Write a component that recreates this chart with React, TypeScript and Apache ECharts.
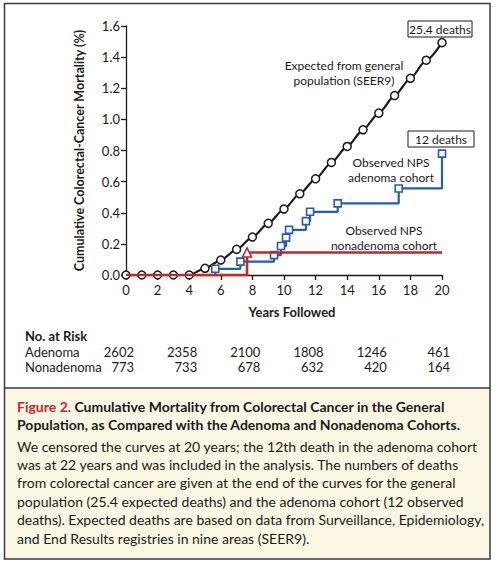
import { useEffect, useRef } from 'react'
import * as echarts from 'echarts'

// expected curve (SEER9), one point per year
const years = [0, 1, 2, 3, 4, 5, 6, 7, 8, 9, 10, 11, 12, 13, 14, 15, 16, 17, 18, 19, 20]
const expectedValues = [0, 0, 0, 0, 0, 0.043, 0.096, 0.165, 0.244, 0.332, 0.424, 0.522, 0.618, 0.723, 0.826, 0.933, 1.04, 1.153, 1.264, 1.38, 1.493]

// observed adenoma cohort, step at each death
const adenomaYears = [0, 5.65, 7.24, 9.37, 9.81, 10.13, 10.32, 11.39, 11.65, 13.4, 17.26, 20]
const adenomaValues = [0, 0.04, 0.086, 0.128, 0.186, 0.24, 0.29, 0.346, 0.406, 0.46, 0.556, 0.78]

// observed nonadenoma cohort
const nonadenomaYears = [0, 7.66, 20]
const nonadenomaValues = [0, 0.145, 0.145]

// numbers at risk
const riskYears = [0, 4, 8, 12, 16, 20]
const adenomaAtRisk = [2602, 2358, 2100, 1808, 1246, 461]
const nonadenomaAtRisk = [773, 733, 678, 632, 420, 164]

const FONT = 'Lato, sans-serif'
const BLACK = '#1a1a1a'
const BLUE = '#2b5ca8'
const RED = '#c1272d'

const captionBody = [
  'We censored the curves at 20 years; the 12th death in the adenoma cohort',
  'was at 22 years and was included in the analysis. The numbers of deaths',
  'from colorectal cancer are given at the end of the curves for the general',
  'population (25.4 expected deaths) and the adenoma cohort (12 observed',
  'deaths). Expected deaths are based on data from Surveillance, Epidemiology,',
  'and End Results registries in nine areas (SEER9).'
]

export default function App() {
  const ref = useRef<HTMLDivElement>(null)

  useEffect(() => {
    if (!ref.current) return
    const chart = echarts.init(ref.current, null, { renderer: 'svg' })

    const axisLabel = { color: BLACK, fontFamily: FONT, fontSize: 13 }

    chart.setOption({
      animation: false,
      grid: { left: 126, right: 58, top: 26, bottom: 289 },
      xAxis: {
        type: 'value',
        min: 0,
        max: 20,
        interval: 2,
        axisLine: { show: true, onZero: false, lineStyle: { color: BLACK, width: 1.3 } },
        axisTick: { show: true, length: 5, lineStyle: { color: BLACK, width: 1.3 } },
        axisLabel: { ...axisLabel, margin: 8 },
        splitLine: { show: false }
      },
      yAxis: {
        type: 'value',
        min: 0,
        max: 1.6,
        interval: 0.2,
        name: 'Cumulative Colorectal-Cancer Mortality (%)',
        nameLocation: 'middle',
        nameGap: 40,
        nameTextStyle: { color: BLACK, fontFamily: FONT, fontSize: 12.5, fontWeight: 'bold' },
        axisLine: { show: true, lineStyle: { color: BLACK, width: 1.3 } },
        axisTick: { show: true, length: 5, lineStyle: { color: BLACK, width: 1.3 } },
        axisLabel: { ...axisLabel, margin: 6, formatter: (v: number) => v.toFixed(1) },
        splitLine: { show: false }
      },
      series: [
        {
          name: 'Expected',
          type: 'line',
          data: years.map((y, i) => [y, expectedValues[i]]),
          smooth: 0.25,
          smoothMonotone: 'x',
          symbol: 'circle',
          symbolSize: 8,
          itemStyle: { color: '#fff', borderColor: BLACK, borderWidth: 1.5 },
          lineStyle: { color: BLACK, width: 2.2 },
          z: 3
        },
        {
          name: 'Adenoma',
          type: 'line',
          step: 'end',
          data: adenomaYears.map((y, i) => ({
            value: [y, adenomaValues[i]],
            symbol: i === 0 ? 'none' : 'rect'
          })),
          symbolSize: 7,
          itemStyle: { color: '#fff', borderColor: BLUE, borderWidth: 1.6 },
          lineStyle: { color: BLUE, width: 2.2 },
          z: 4
        },
        {
          name: 'Nonadenoma',
          type: 'line',
          step: 'end',
          data: nonadenomaYears.map((y, i) => ({
            value: [y, nonadenomaValues[i]],
            symbol: i === 1 ? 'triangle' : 'none'
          })),
          symbolSize: 9,
          itemStyle: { color: '#fff', borderColor: RED, borderWidth: 1.6 },
          lineStyle: { color: RED, width: 2.6 },
          z: 5
        }
      ]
    })

    const px = (yr: number) => chart.convertToPixel({ xAxisIndex: 0 }, yr) as number
    const text = (x: number, y: number, t: string, extra: any = {}) => ({
      type: 'text',
      x,
      y,
      silent: true,
      style: {
        text: t,
        fill: BLACK,
        font: `13px ${FONT}`,
        textAlign: 'center',
        textVerticalAlign: 'middle',
        ...extra
      }
    })
    const note = (x: number, y: number, t: string) => text(x, y, t, { font: `12px ${FONT}` })
    const box = (x: number, y: number, w: number, h: number, t: string) => [
      { type: 'rect', shape: { x, y, width: w, height: h }, style: { fill: '#fff', stroke: BLACK, lineWidth: 1 }, z: 10 },
      { ...text(x + w / 2, y + h / 2 + 0.5, t, { font: `12px ${FONT}` }), z: 11 }
    ]

    const graphic: any[] = [
      // frame and caption panel
      { type: 'rect', shape: { x: 4.5, y: 388, width: 485.5, height: 171 }, style: { fill: '#fbf7e4' }, z: -10 },
      { type: 'rect', shape: { x: 4.5, y: 3.5, width: 485.5, height: 555.5 }, style: { fill: 'none', stroke: '#3a3a3a', lineWidth: 1.5 }, z: 20 },
      { type: 'line', shape: { x1: 4.5, y1: 388, x2: 490, y2: 388 }, style: { stroke: '#3a3a3a', lineWidth: 1.5 }, z: 20 },
      // annotations
      note(344, 65, 'Expected from general'),
      note(344, 80, 'population (SEER9)'),
      note(391, 162, 'Observed NPS'),
      note(391, 177, 'adenoma cohort'),
      note(384, 230, 'Observed NPS'),
      note(384, 245, 'nonadenoma cohort'),
      ...box(408, 21, 64, 16, '25.4 deaths'),
      ...box(408, 131, 66, 16, '12 deaths'),
      // axis title and risk table
      text(292, 312, 'Years Followed', { font: `bold 13px ${FONT}` }),
      text(25, 336, 'No. at Risk', { font: `bold 13px ${FONT}`, textAlign: 'left' }),
      text(25, 352, 'Adenoma', { textAlign: 'left' }),
      text(25, 367, 'Nonadenoma', { textAlign: 'left' }),
      ...riskYears.map((yr, i) => text(px(yr) + 8, 352, String(adenomaAtRisk[i]), { textAlign: 'right' })),
      ...riskYears.map((yr, i) => text(px(yr) + 8, 367, String(nonadenomaAtRisk[i]), { textAlign: 'right' })),
      // caption
      {
        type: 'text',
        x: 17,
        y: 406,
        style: {
          text: '{r|Figure 2.} {b|Cumulative Mortality from Colorectal Cancer in the General}',
          textVerticalAlign: 'middle',
          rich: {
            r: { fill: RED, font: `bold 14px ${FONT}` },
            b: { fill: BLACK, font: `bold 14px ${FONT}` }
          }
        }
      },
      text(17, 424, 'Population, as Compared with the Adenoma and Nonadenoma Cohorts.', { font: `bold 14px ${FONT}`, textAlign: 'left' }),
      ...captionBody.map((line, i) => text(17, 446 + i * 18.4, line, { font: `14px ${FONT}`, textAlign: 'left' }))
    ]

    chart.setOption({ graphic })

    return () => chart.dispose()
  }, [])

  return (
    <div
      ref={ref}
      style={{ position: 'absolute', left: 0, top: 0, width: 500, height: 564, background: '#fff' }}
    />
  )
}
